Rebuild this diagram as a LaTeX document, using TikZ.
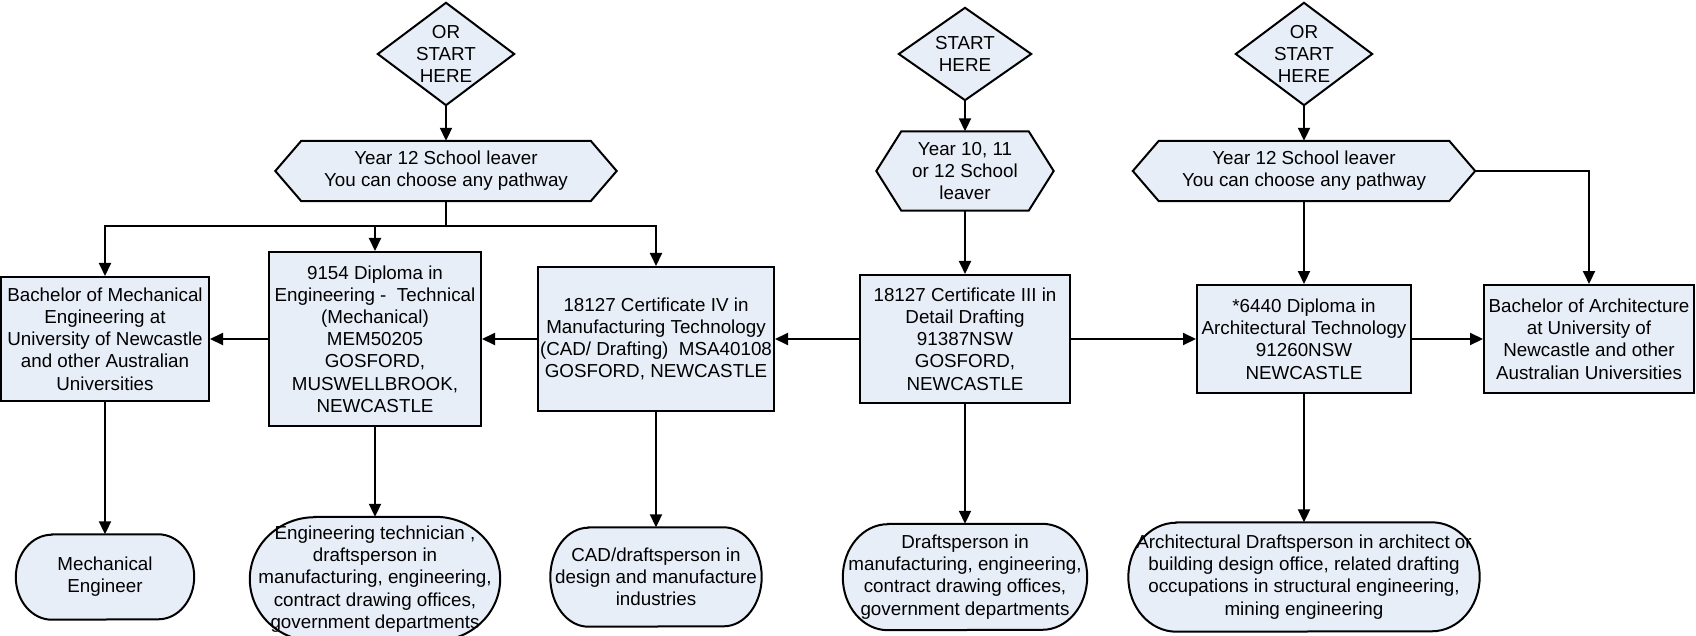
\documentclass[tikz,border=0pt]{standalone}
\usepackage{fontspec}
\setmainfont{Liberation Sans}
\usetikzlibrary{arrows.meta,backgrounds}
\definecolor{boxfill}{RGB}{232,238,248}
\tikzset{
  every picture/.style={x=1pt,y=-1pt},
  txt/.style={inner sep=0pt,align=center,font=\fontsize{18.8}{22.2}\selectfont},
  boxnode/.style={txt,draw=black,fill=boxfill,line width=2pt,rectangle},
  shapeline/.style={draw=black,fill=boxfill,line width=2pt,line join=miter},
  arr/.style={line width=2pt,-{Triangle[length=13pt,width=12pt]}},
  plain/.style={line width=2pt}
}
\newcommand{\diamondshape}[1]{\path[shapeline] (#1.north) -- (#1.east) -- (#1.south) -- (#1.west) -- cycle;}
\newcommand{\hexshape}[2]{\path[shapeline] ([xshift=#2]#1.north west) -- ([xshift=-#2]#1.north east) -- (#1.east) -- ([xshift=-#2]#1.south east) -- ([xshift=#2]#1.south west) -- (#1.west) -- cycle;}
\newcommand{\termshape}[3]{\path[shapeline] ([xshift=#2]#1.north west) -- ([xshift=-#2]#1.north east) arc[start angle=-90,end angle=90,x radius=#2,y radius=#3] -- ([xshift=#2]#1.south west) arc[start angle=90,end angle=270,x radius=#2,y radius=#3] -- cycle;}
\begin{document}
\begin{tikzpicture}
\useasboundingbox (0,0) rectangle (1696,636);

% start diamonds
\node[txt,minimum width=136,minimum height=102] (d1) at (446,54) {OR\\START\\HERE};
\node[txt,minimum width=132,minimum height=92] (d2) at (965,54) {START\\HERE};
\node[txt,minimum width=136,minimum height=102] (d3) at (1304,54) {OR\\START\\HERE};

% hexagons
\node[txt,minimum width=341,minimum height=60] (h1) at (446,171) {Year 12 School leaver\\You can choose any pathway};
\node[txt,minimum width=177,minimum height=79] (h2) at (965,171) {Year 10, 11\\or 12 School\\leaver};
\node[txt,minimum width=342,minimum height=60] (h3) at (1304,171) {Year 12 School leaver\\You can choose any pathway};

% boxes
\node[boxnode,minimum width=208,minimum height=124] (bm) at (105,339) {Bachelor of Mechanical\\Engineering at\\University of Newcastle\\and other Australian\\Universities};
\node[boxnode,minimum width=212,minimum height=174] (dip) at (375,339) {9154 Diploma in\\Engineering -\ \ Technical\\(Mechanical)\\MEM50205\\GOSFORD,\\MUSWELLBROOK,\\NEWCASTLE};
\node[boxnode,minimum width=236,minimum height=144] (c4) at (656,339) {18127 Certificate IV in\\Manufacturing Technology\\(CAD/ Drafting)\ \ MSA40108\\GOSFORD, NEWCASTLE};
\node[boxnode,minimum width=210,minimum height=128] (c3) at (965,339) {18127 Certificate III in\\Detail Drafting\\91387NSW\\GOSFORD,\\NEWCASTLE};
\node[boxnode,minimum width=214,minimum height=108] (da) at (1304,339) {*6440 Diploma in\\Architectural Technology\\91260NSW\\NEWCASTLE};
\node[boxnode,minimum width=210,minimum height=108] (ba) at (1589,339) {Bachelor of Architecture\\at University of\\Newcastle and other\\Australian Universities};

% terminals
\node[txt,minimum width=178,minimum height=85] (t1) at (105,577) {Mechanical\\Engineer};
\node[txt,minimum width=250,minimum height=124] (t2) at (375,579) {Engineering technician ,\\draftsperson in\\manufacturing, engineering,\\contract drawing offices,\\government departments};
\node[txt,minimum width=211,minimum height=99] (t3) at (656,577) {CAD/draftsperson in\\design and manufacture\\industries};
\node[txt,minimum width=244,minimum height=106] (t4) at (965,577) {Draftsperson in\\manufacturing, engineering,\\contract drawing offices,\\government departments};
\node[txt,minimum width=351,minimum height=109] (t5) at (1304,577) {Architectural Draftsperson in architect or\\building design office, related drafting\\occupations in structural engineering,\\mining engineering};

\begin{scope}[on background layer]
\diamondshape{d1}
\diamondshape{d2}
\diamondshape{d3}
\hexshape{h1}{26}
\hexshape{h2}{25}
\hexshape{h3}{26}
\termshape{t1}{36}{42.5}
\termshape{t2}{65}{62}
\termshape{t3}{38}{49.5}
\termshape{t4}{45}{53}
\termshape{t5}{48}{54.5}
\end{scope}

% connectors
\coordinate (bus1) at (446,226);
\draw[arr] (d1) -- (h1);
\draw[arr] (d2) -- (h2);
\draw[arr] (d3) -- (h3);
\draw[plain] (h1.south) -- (bus1);
\draw[arr] (bus1) -| (bm.north);
\draw[arr] (bus1) -| (dip.north);
\draw[arr] (bus1) -| (c4.north);
\draw[arr] (h2.south) -- (c3.north);
\draw[arr] (h3.south) -- (da.north);
\draw[arr] (h3.east) -| (ba.north);
\draw[arr] (c3.west) -- (c4.east);
\draw[arr] (c4.west) -- (dip.east);
\draw[arr] (dip.west) -- (bm.east);
\draw[arr] (c3.east) -- (da.west);
\draw[arr] (da.east) -- (ba.west);
\draw[arr] (bm.south) -- (t1.north);
\draw[arr] (dip.south) -- (t2.north);
\draw[arr] (c4.south) -- (t3.north);
\draw[arr] (c3.south) -- (t4.north);
\draw[arr] (da.south) -- (t5.north);
\end{tikzpicture}
\end{document}
